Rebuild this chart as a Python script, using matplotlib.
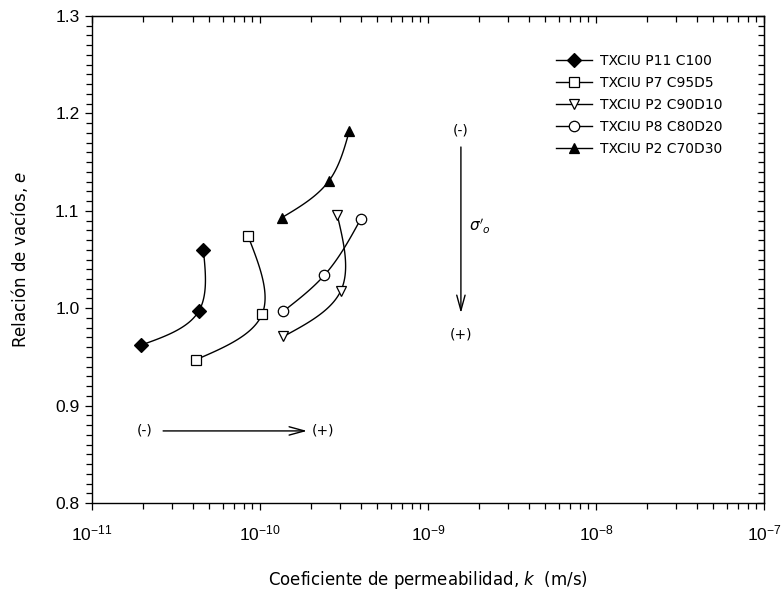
import numpy as np
import matplotlib
matplotlib.use("Agg")
import matplotlib.pyplot as plt
from matplotlib.ticker import FuncFormatter, MultipleLocator, LogLocator, NullFormatter

# data (k in m/s, e void ratio)
labels = ["TXCIU P11 C100", "TXCIU P7 C95D5", "TXCIU P2 C90D10",
          "TXCIU P8 C80D20", "TXCIU P2 C70D30"]
markers = ["D", "s", "v", "o", "^"]
fills = ["black", "white", "white", "white", "black"]
sizes = [7.5, 6.5, 7.5, 7.5, 7.5]

k_p11 = [1.95e-11, 4.32e-11, 4.60e-11]
e_p11 = [0.962, 0.997, 1.060]
k_p7 = [4.14e-11, 1.03e-10, 8.49e-11]
e_p7 = [0.947, 0.994, 1.074]
k_p2a = [1.38e-10, 3.03e-10, 2.88e-10]
e_p2a = [0.971, 1.018, 1.096]
k_p8 = [1.38e-10, 2.42e-10, 3.99e-10]
e_p8 = [0.997, 1.034, 1.092]
k_p2b = [1.35e-10, 2.58e-10, 3.40e-10]
e_p2b = [1.093, 1.131, 1.182]

series = [(k_p11, e_p11), (k_p7, e_p7), (k_p2a, e_p2a), (k_p8, e_p8), (k_p2b, e_p2b)]

plt.rcParams['font.family'] = ['DejaVu Sans']
narrow = ['Liberation Sans Narrow', 'Liberation Sans', 'DejaVu Sans']


def natural_spline(t, y, tt):
    # natural cubic spline, small tridiagonal system solved with numpy
    n = len(t)
    h = np.diff(t)
    A = np.zeros((n, n))
    r = np.zeros(n)
    A[0, 0] = A[-1, -1] = 1
    for i in range(1, n - 1):
        A[i, i - 1] = h[i - 1]
        A[i, i] = 2 * (h[i - 1] + h[i])
        A[i, i + 1] = h[i]
        r[i] = 6 * ((y[i + 1] - y[i]) / h[i] - (y[i] - y[i - 1]) / h[i - 1])
    M = np.linalg.solve(A, r)
    out = np.empty_like(tt)
    for j, x in enumerate(tt):
        i = min(np.searchsorted(t, x, side='right') - 1, n - 2)
        a, b = t[i + 1] - x, x - t[i]
        out[j] = (M[i] * a ** 3 + M[i + 1] * b ** 3) / (6 * h[i]) \
            + (y[i] / h[i] - M[i] * h[i] / 6) * a + (y[i + 1] / h[i] - M[i + 1] * h[i] / 6) * b
    return out


def smooth(k, e, n=80):
    lx = np.log10(k) * 168.0
    y = np.array(e) * 974.0
    d = np.hypot(np.diff(lx), np.diff(y))
    t = np.concatenate([[0], np.cumsum(d)])
    tt = np.linspace(0, t[-1], n)
    return 10 ** (natural_spline(t, lx, tt) / 168.0), natural_spline(t, y, tt) / 974.0


fig = plt.figure(figsize=(7.81, 5.9), dpi=100)
ax = fig.add_axes([92 / 781, 1 - 503 / 590, 672 / 781, 487 / 590])
ax.set_xscale('log')
ax.set_xlim(1e-11, 1e-7)
ax.set_ylim(0.8, 1.3)

for (k, e), lab, m, fc, ms in zip(series, labels, markers, fills, sizes):
    sx, sy = smooth(k, e)
    ax.plot(sx, sy, color='black', lw=1.0)
    ax.plot(k, e, ls='none', marker=m, ms=ms, mfc=fc, mec='black', mew=0.9)
    ax.plot([], [], color='black', lw=1.0, marker=m, ms=ms, mfc=fc,
            mec='black', mew=0.9, label=lab)

ax.legend(loc='upper left', bbox_to_anchor=(556 / 781, 1 - 54 / 590),
          bbox_transform=fig.transFigure, frameon=False, fontsize=10,
          borderpad=0, borderaxespad=0, handlelength=2.6, handletextpad=0.6,
          labelspacing=0.58)

# ticks
ax.yaxis.set_major_locator(MultipleLocator(0.1))
ax.yaxis.set_minor_locator(MultipleLocator(0.01))
ax.yaxis.set_major_formatter(FuncFormatter(lambda v, p: '%.1f' % v))
ax.xaxis.set_major_locator(LogLocator(base=10, numticks=10))
ax.xaxis.set_minor_locator(LogLocator(base=10, subs=np.arange(2, 10), numticks=20))
ax.xaxis.set_minor_formatter(NullFormatter())
ax.xaxis.set_major_formatter(FuncFormatter(
    lambda v, p: r'$\mathregular{10^{%d}}$' % round(np.log10(v))))
ax.tick_params(which='major', direction='out', length=5, width=0.9, labelsize=12.5)
ax.tick_params(which='minor', direction='out', length=4, width=0.9)
ax.tick_params(axis='x', which='major', pad=10)
ax.tick_params(axis='y', which='major', pad=4)
for lab in ax.get_xticklabels() + ax.get_yticklabels():
    lab.set_family(narrow)

top = ax.secondary_xaxis('top')
top.xaxis.set_major_locator(LogLocator(base=10, numticks=10))
top.xaxis.set_minor_locator(LogLocator(base=10, subs=np.arange(2, 10), numticks=20))
top.tick_params(which='both', direction='in', labeltop=False)
top.tick_params(which='major', length=5, width=0.9)
top.tick_params(which='minor', length=4, width=0.9)
right = ax.secondary_yaxis('right')
right.yaxis.set_major_locator(MultipleLocator(0.1))
right.yaxis.set_minor_locator(MultipleLocator(0.01))
right.tick_params(which='both', direction='in', labelright=False)
right.tick_params(which='major', length=5, width=0.9)
right.tick_params(which='minor', length=4, width=0.9)

ax.set_xlabel(r'Coeficiente de permeabilidad, $k$  (m/s)', fontsize=12)
ax.set_ylabel(r'Relación de vacíos, $e$', fontsize=12)
ax.xaxis.set_label_coords(0.5, -0.135)
ax.yaxis.set_label_coords(-0.092, 0.5)

# direction arrows
arrow = dict(arrowstyle='->,head_length=1.1,head_width=0.3', lw=1.0, color='black',
             shrinkA=0, shrinkB=0)
ax.annotate('', xy=(1.905e-10, 0.874), xytext=(2.65e-11, 0.874), arrowprops=arrow)
ax.text(2.07e-11, 0.874, '(-)', ha='center', va='center', fontsize=10)
ax.text(2.37e-10, 0.874, '(+)', ha='center', va='center', fontsize=10)
ax.annotate('', xy=(1.57e-9, 0.995), xytext=(1.57e-9, 1.1655), arrowprops=arrow)
ax.text(1.57e-9, 1.182, '(-)', ha='center', va='center', fontsize=10)
ax.text(1.57e-9, 0.9735, '(+)', ha='center', va='center', fontsize=10)
ax.text(2.04e-9, 1.084, r"$\sigma'_o$", ha='center', va='center', fontsize=11)

for s in ax.spines.values():
    s.set_linewidth(1.0)

fig.savefig('out.png', dpi=100)
